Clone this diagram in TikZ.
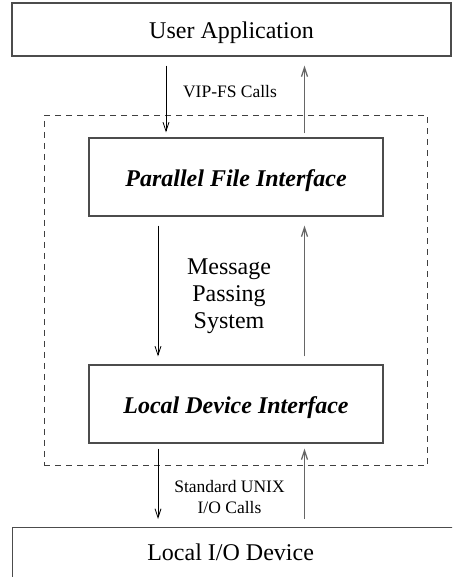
\documentclass[tikz,border=0pt]{standalone}
\usepackage{fontspec}
\setmainfont{Liberation Serif}
\usepackage{tikz}
\usetikzlibrary{arrows.meta,fit}
\tikzstyle{bigtext} = [font=\fontsize{24}{27}\selectfont]
\tikzstyle{smalltext} = [font=\fontsize{17.5}{21.5}\selectfont]
\tikzstyle{layerbox} = [draw=black!70, line width=1.2pt, rectangle, inner sep=0pt, text height=18pt, text depth=0pt, bigtext]
\tikzstyle{ifbox} = [layerbox, minimum width=294, minimum height=78]
\tikzstyle{dashframe} = [draw=black!75, line width=1pt, dash pattern=on 6pt off 5pt, inner xsep=44pt, inner ysep=22pt]
\tikzstyle{downcall} = [draw=black, line width=0.8pt, -{Straight Barb[length=9pt,width=6pt]}]
\tikzstyle{upcall} = [draw=black!60, line width=1.3pt, -{Straight Barb[length=9pt,width=6pt]}]

\begin{document}
\begin{tikzpicture}[x=1pt,y=-1pt]
\useasboundingbox (0,0) rectangle (452,577);
\clip (0,0) rectangle (452,577);
% layers
\node[layerbox, minimum width=439, minimum height=53] (app) at (231.5,29.5) {User Application};
\node[ifbox] (pfi) at (236,177) {\textbf{\textit{Parallel File Interface}}};
\node[ifbox] (ldi) at (236,404) {\textbf{\textit{Local Device Interface}}};
\node[layerbox, minimum width=446, minimum height=60, text depth=12pt, anchor=north west] (dev) at (12,527) {\hspace*{-10pt}Local I/O Device};
\node[dashframe, fit=(pfi)(ldi)] (vipfs) {};
% arrow columns
\coordinate (topdown) at (166,0);
\coordinate (down) at (158,0);
\coordinate (up) at (304.5,0);
% calls
\draw[downcall, shorten <=9pt, shorten >=5pt] (app.south -| topdown) -- (pfi.north -| topdown);
\draw[upcall, shorten <=4pt, shorten >=9pt] (pfi.north -| up) -- (app.south -| up);
\draw[downcall, shorten <=9pt, shorten >=8pt] (pfi.south -| down) -- (ldi.north -| down);
\draw[upcall, shorten <=8pt, shorten >=9pt] (ldi.north -| up) -- (pfi.south -| up);
\draw[downcall, shorten <=5pt, shorten >=8pt] (ldi.south -| down) -- (dev.north -| down);
\draw[upcall, shorten <=8pt, shorten >=5pt] (dev.north -| up) -- (ldi.south -| up);
% labels
\node[smalltext] (vipcalls) at (230,92) {VIP-FS Calls};
\node[bigtext, align=center] (mps) at (229,296) {Message\\Passing\\System};
\node[smalltext, align=center] (unixcalls) at (229.5,497) {Standard UNIX\\I/O Calls};
\end{tikzpicture}
\end{document}
